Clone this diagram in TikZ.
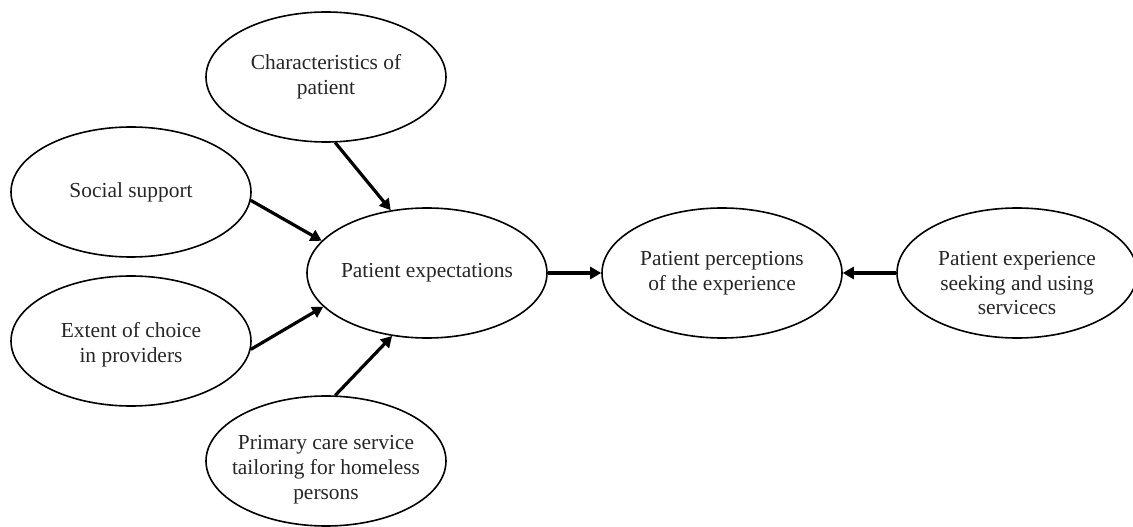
\documentclass[tikz,border=0pt]{standalone}
\usepackage{fontspec}
\setmainfont{Liberation Serif}
\usetikzlibrary{shapes.geometric,arrows.meta}
\tikzset{
  oval/.style={draw=black, line width=1.6bp, ellipse, minimum width=240bp, minimum height=130bp,
    inner ysep=0pt, inner xsep=-15bp, align=center, font=\fontsize{21.5}{25}\selectfont, text=black!85},
  link/.style={draw=black, line width=3.2bp, -{Triangle[length=11bp,width=12bp]}}
}
\begin{document}
\begin{tikzpicture}[x=1bp,y=-1bp]
\useasboundingbox (0,0) rectangle (1133,527);
\node[oval] (char) at (326,77) {Characteristics of\\patient};
\node[oval] (soc) at (131,192) {Social support};
\node[oval] (ext) at (131,341) [text height=47bp, text depth=4.5bp] {Extent of choice\\in providers};
\node[oval] (exp) at (427,273) {Patient expectations};
\node[oval] (perc) at (722,273) {Patient perceptions\\of the experience};
\node[oval] (serv) at (1017,273) [text height=84bp, text depth=0bp] {Patient experience\\seeking and using\\servicecs};
\node[oval] (prim) at (326,461) [text height=82bp, text depth=4.5bp] {Primary care service\\tailoring for homeless\\persons};
\draw[link] (char.-82) -- (exp.120);
\draw[link] (soc.-4) -- (exp.163);
\draw[link] (ext.-4) -- (exp.198);
\draw[link] (prim.82) -- (exp.241);
\draw[link] (exp.east) -- (perc.west);
\draw[link] (serv.west) -- (perc.east);
\end{tikzpicture}
\end{document}
